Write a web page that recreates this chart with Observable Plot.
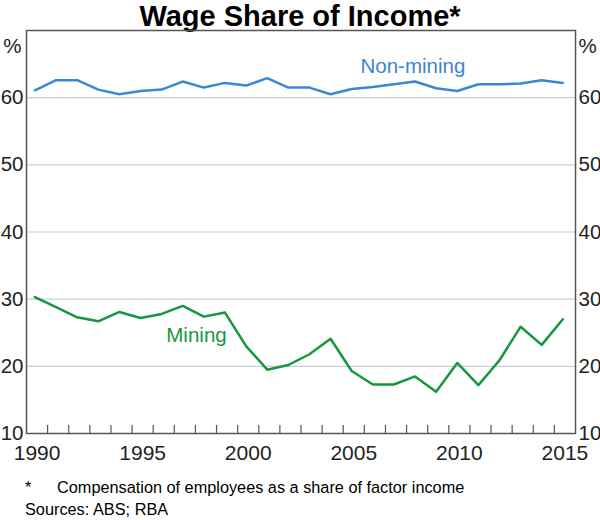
<!DOCTYPE html>
<html>
<head>
<meta charset="utf-8">
<script src="https://cdn.jsdelivr.net/npm/d3@7"></script>
<script src="https://cdn.jsdelivr.net/npm/@observablehq/plot@0.6"></script>
<style>
  body { margin: 0; background: #fff; font-family: "Liberation Sans", Arial, sans-serif; }
  #wrap { width: 600px; }
  #title { height: 28px; line-height: 32.4px; text-align: center; font-weight: bold; font-size: 29px; color: #000; white-space: nowrap; }
  #chart { height: 444px; }
  #notes { margin-top: 4px; font-size: 16.3px; line-height: 22px; color: #000; }
  .row { display: flex; }
  .k1 { width: 32px; padding-left: 25px; }
  .k2 { width: 68px; padding-left: 25px; }
</style>
</head>
<body>
<div id="wrap">
  <div id="title">Wage Share of Income*</div>
  <div id="chart"></div>
  <div id="notes">
    <div class="row"><span class="k1">*</span><span>Compensation of employees as a share of factor income</span></div>
    <div class="row"><span class="k2">Sources:</span><span>ABS; RBA</span></div>
  </div>
</div>
<script>
const years = [1990,1991,1992,1993,1994,1995,1996,1997,1998,1999,2000,2001,2002,2003,2004,2005,2006,2007,2008,2009,2010,2011,2012,2013,2014,2015];
const nonMining = [61.1,62.6,62.6,61.2,60.5,61.0,61.2,62.4,61.5,62.2,61.8,62.9,61.5,61.5,60.5,61.3,61.6,62.0,62.4,61.4,61.0,62.0,62.0,62.1,62.6,62.2];
const mining = [30.3,28.8,27.3,26.7,28.1,27.2,27.8,29.0,27.4,28.0,23.0,19.5,20.2,21.8,24.1,19.3,17.3,17.3,18.5,16.2,20.5,17.2,20.9,25.9,23.2,27.0];
const yTicks = [10,20,30,40,50,60];
const gridValues = [20,30,40,50,60];
const xLabelYears = [1990,1995,2000,2005,2010,2015];
const xTickYears = d3.range(1991, 2016);
const seriesLabels = [
  {text: "Non-mining", year: 2008.3, value: 64.6, color: "#3a87d5"},
  {text: "Mining", year: 1998.05, value: 24.65, color: "#16973f"}
];

const nmRows = years.map((y, i) => ({year: y, value: nonMining[i]}));
const mRows = years.map((y, i) => ({year: y, value: mining[i]}));
const font = "Liberation Sans, Arial, sans-serif";
const axisColor = "#555";

const chart = Plot.plot({
  width: 600,
  height: 444,
  marginTop: 2,
  marginBottom: 39,
  marginLeft: 26,
  marginRight: 25,
  style: {fontFamily: font, fontSize: "20px", color: "#222", background: "#fff"},
  x: {domain: [1990, 2016], axis: null},
  y: {domain: [10, 70], axis: null},
  marks: [
    Plot.ruleY(gridValues, {stroke: "#c3d0dc", strokeWidth: 1.2}),
    Plot.axisY(yTicks, {anchor: "left", tickSize: 0, tickPadding: 3, fontSize: 20.5, label: null}),
    Plot.axisY(yTicks, {anchor: "right", tickSize: 0, tickPadding: 3, fontSize: 20.5, label: null}),
    Plot.axisX(xTickYears, {anchor: "bottom", tickSize: 8, dy: -8, tickFormat: () => "", stroke: axisColor, strokeWidth: 1.2, label: null}),
    Plot.axisX(xLabelYears.map(y => y + 0.5), {anchor: "bottom", tickSize: 0, tickPadding: 12, fontSize: 21, tickFormat: d => String(Math.floor(d)), label: null}),
    Plot.text(["%"], {frameAnchor: "top-left", textAnchor: "end", dx: -5, dy: 8, fontSize: 20.5}),
    Plot.text(["%"], {frameAnchor: "top-right", textAnchor: "start", dx: 3, dy: 8, fontSize: 20.5}),
    Plot.line(nmRows, {x: d => d.year + 0.4, y: "value", stroke: "#3a87d5", strokeWidth: 2.5}),
    Plot.line(mRows, {x: d => d.year + 0.4, y: "value", stroke: "#16973f", strokeWidth: 2.5}),
    Plot.text(seriesLabels, {x: "year", y: "value", text: "text", fill: "color", fontSize: 20.5}),
    Plot.frame({stroke: axisColor, strokeWidth: 1.5})
  ]
});
document.getElementById("chart").appendChild(chart);
</script>
</body>
</html>
